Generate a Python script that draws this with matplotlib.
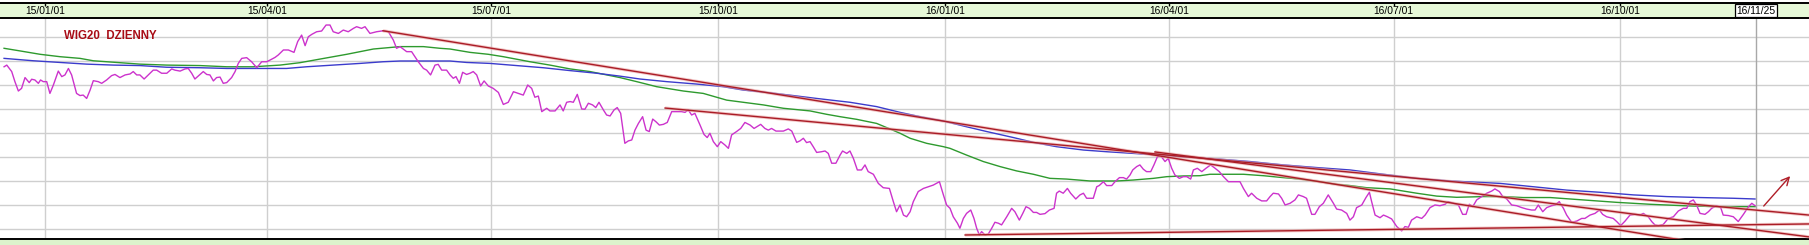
import numpy as np
import pandas as pd
import matplotlib
matplotlib.use('Agg')
import matplotlib.pyplot as plt

plt.rcParams['font.family'] = ['Liberation Sans', 'DejaVu Sans']

# x values are calendar days counted from 2015-01-01
base = pd.Timestamp('2015-01-01')

# WIG20 daily close (4 pieces, left to right)
price_day_a = [-16.6, -15.5, -13.5, -12.2, -10.8, -9.5, -8.1, -6.4, -5.4, -4.1,
               -2.7, -1.8, -0.7, 0.7, 2.0, 3.4, 5.4, 6.8, 8.1, 9.5,
               10.8, 12.8, 14.2, 15.5, 16.9, 18.3, 19.6, 21.6, 23.0, 25.0,
               27.0, 28.4, 30.4, 32.5, 34.5, 35.8, 37.2, 38.5, 40.2, 41.9,
               43.9, 45.3, 47.3, 49.4, 51.4, 52.7, 54.8, 56.8, 58.1, 59.5,
               60.8, 62.9, 64.2, 65.6, 66.9, 68.3, 69.6, 71.0, 72.3, 73.7,
               75.7, 77.1, 78.4, 79.8, 81.8, 83.8, 85.9, 87.9, 89.9, 91.3,
               93.3, 94.6, 96.7, 98.7, 101.0, 102.5, 104.1, 105.5, 106.8, 108.2,
               110.2, 112.2, 114.0, 115.6, 116.9, 119.0, 121.0, 123.0, 125.1, 126.4,
               128.4, 129.8, 131.8, 134.5, 137.2, 139.3, 141.3, 142.6, 144.0, 145.3,
               146.7, 148.7, 151.4, 153.5, 154.8, 156.4, 158.2, 159.5, 160.9, 162.9]
price_val_a = [2374, 2381, 2354, 2312, 2273, 2284, 2329, 2308, 2322, 2319,
               2305, 2319, 2312, 2312, 2263, 2298, 2356, 2333, 2340, 2367,
               2340, 2263, 2254, 2256, 2242, 2277, 2316, 2312, 2305, 2319,
               2337, 2342, 2329, 2340, 2344, 2354, 2340, 2340, 2323, 2340,
               2360, 2360, 2347, 2347, 2365, 2360, 2356, 2365, 2367, 2347,
               2323, 2342, 2354, 2342, 2340, 2315, 2329, 2331, 2305, 2308,
               2329, 2354, 2388, 2409, 2412, 2395, 2370, 2395, 2395, 2402,
               2413, 2423, 2444, 2444, 2434, 2479, 2506, 2462, 2499, 2509,
               2520, 2523, 2548, 2548, 2520, 2513, 2527, 2520, 2534, 2541,
               2534, 2541, 2513, 2520, 2524, 2520, 2485, 2451, 2458, 2448,
               2437, 2437, 2395, 2367, 2360, 2340, 2381, 2384, 2360, 2360]

price_day_b = [164.3, 165.6, 166.7, 168.1, 169.4, 171.0, 172.4, 173.7, 175.1, 176.7,
               178.1, 179.8, 181.8, 183.9, 185.9, 187.9, 190.0, 192.0, 194.0, 195.8,
               197.4, 198.7, 200.1, 201.5, 203.5, 204.8, 206.9, 208.9, 210.2, 211.6,
               213.0, 214.3, 215.9, 217.7, 219.0, 220.4, 222.1, 223.4, 224.7, 226.5,
               227.8, 229.2, 230.8, 232.1, 233.5, 235.2, 236.6, 238.0, 239.3, 240.7,
               242.4, 243.8, 245.1, 246.5, 247.8, 249.2, 250.8, 252.4, 254.2, 256.2,
               258.2, 259.6, 260.9, 262.3, 263.6, 265.7, 267.3, 268.6, 269.7, 271.1,
               272.7, 274.1, 275.8, 277.2, 278.5, 280.5, 282.2, 283.9, 286.0, 287.6,
               288.7, 290.3, 292.0, 293.4, 294.7, 296.5, 299.5, 301.5, 302.9, 304.9,
               306.2, 307.6, 308.9, 310.3, 311.6, 313.0, 315.0, 316.4, 317.7, 319.1,
               320.8, 322.5, 323.5, 325.2, 326.5, 327.9, 329.5, 331.2, 332.6, 333.9,
               336.0, 338.0, 340.0, 342.5, 344.1, 345.4]
price_val_b = [2340, 2326, 2333, 2305, 2351, 2342, 2347, 2354, 2340, 2294,
               2315, 2294, 2284, 2267, 2217, 2226, 2270, 2263, 2256, 2298,
               2284, 2247, 2252, 2187, 2201, 2190, 2190, 2215, 2190, 2226,
               2229, 2226, 2259, 2198, 2197, 2222, 2215, 2204, 2226, 2194,
               2173, 2169, 2194, 2204, 2180, 2055, 2065, 2069, 2110, 2138,
               2166, 2110, 2104, 2156, 2145, 2131, 2134, 2142, 2187, 2187,
               2187, 2184, 2194, 2173, 2180, 2131, 2092, 2079, 2097, 2062,
               2041, 2062, 2048, 2034, 2090, 2104, 2117, 2142, 2131, 2117,
               2124, 2134, 2117, 2110, 2117, 2106, 2106, 2115, 2106, 2059,
               2065, 2076, 2058, 2062, 2041, 2017, 2020, 2023, 2013, 1972,
               1972, 2006, 2023, 2013, 2023, 1992, 1944, 1944, 1965, 1937,
               1926, 1888, 1870, 1867, 1812, 1770]

price_day_c = [346.8, 348.2, 349.5, 350.9, 352.2, 354.2, 356.3, 358.3, 360.3, 362.8,
               364.4, 365.7, 367.1, 368.4, 370.1, 371.1, 372.5, 373.8, 375.5, 376.8,
               377.9, 379.0, 379.9, 381.3, 382.6, 384.0, 385.3, 386.7, 388.0, 390.1,
               392.1, 393.4, 395.2, 396.6, 397.9, 399.3, 400.9, 402.2, 403.6, 405.6,
               407.4, 409.3, 410.3, 411.4, 413.0, 414.7, 416.0, 418.1, 419.8, 421.2,
               422.5, 425.2, 426.6, 427.6, 429.3, 430.6, 432.7, 434.0, 435.8, 437.4,
               438.7, 440.1, 441.2, 442.8, 444.1, 445.5, 446.8, 448.5, 449.8, 451.2,
               452.5, 454.3, 455.6, 457.0, 458.3, 460.1, 461.7, 463.1, 464.7, 465.8,
               467.4, 469.2, 470.9, 472.8, 474.6, 476.3, 478.0, 480.0, 482.0, 484.7,
               486.1, 488.1, 489.4, 491.5, 493.5, 495.5, 496.9, 498.2, 500.3, 501.6,
               503.0, 505.0, 507.0, 508.4, 510.4, 511.7, 513.8, 515.1, 516.9, 518.5,
               520.5, 522.6, 523.9, 525.9, 528.0]
price_val_c = [1798, 1756, 1749, 1770, 1812, 1854, 1867, 1874, 1881, 1895,
               1840, 1798, 1784, 1749, 1722, 1701, 1742, 1763, 1777, 1742,
               1701, 1673, 1687, 1673, 1677, 1701, 1726, 1722, 1715, 1749,
               1784, 1770, 1735, 1763, 1791, 1784, 1767, 1767, 1759, 1762,
               1777, 1784, 1847, 1856, 1847, 1867, 1847, 1823, 1840, 1847,
               1826, 1826, 1874, 1879, 1895, 1879, 1879, 1895, 1912, 1912,
               1906, 1923, 1944, 1958, 1965, 1947, 1937, 1937, 1965, 1999,
               2004, 1979, 1992, 1951, 1923, 1909, 1916, 1916, 1906, 1944,
               1951, 1937, 1951, 1965, 1951, 1937, 1916, 1895, 1895, 1895,
               1867, 1833, 1847, 1826, 1815, 1815, 1833, 1847, 1844, 1826,
               1798, 1805, 1819, 1840, 1833, 1826, 1759, 1759, 1791, 1805,
               1840, 1805, 1781, 1777, 1763]

price_day_d = [529.3, 530.7, 532.0, 534.1, 535.8, 537.2, 538.1, 539.5, 541.5, 542.9,
               544.5, 546.2, 548.3, 550.3, 551.6, 553.0, 554.3, 556.4, 558.4, 559.8,
               561.8, 563.8, 565.8, 567.9, 569.2, 571.2, 573.3, 575.0, 576.4, 577.7,
               579.1, 580.7, 582.7, 584.8, 586.8, 588.1, 589.9, 591.3, 592.9, 594.9,
               596.9, 599.0, 601.0, 603.0, 604.4, 605.7, 607.5, 609.1, 611.1, 612.5,
               614.2, 615.9, 617.2, 619.2, 621.3, 623.3, 624.6, 626.7, 628.7, 630.5,
               631.8, 633.4, 636.1, 637.5, 639.1, 640.9, 642.9, 644.9, 647.0, 648.3,
               650.3, 651.7, 653.0, 654.4, 656.4, 658.4, 660.5, 662.5, 664.5, 665.9,
               667.2, 668.6, 669.9, 671.3, 673.3, 674.7, 676.0, 678.0, 679.7, 680.7,
               682.8, 684.8, 686.8, 688.9, 690.9, 692.3, 693.6]
price_val_d = [1735, 1749, 1787, 1798, 1829, 1851, 1812, 1756, 1745, 1756,
               1749, 1740, 1708, 1690, 1708, 1705, 1735, 1749, 1742, 1756,
               1787, 1798, 1795, 1801, 1812, 1805, 1798, 1759, 1759, 1801,
               1791, 1819, 1833, 1847, 1856, 1865, 1854, 1833, 1823, 1798,
               1795, 1787, 1781, 1777, 1777, 1798, 1770, 1787, 1795, 1798,
               1812, 1784, 1756, 1726, 1731, 1742, 1742, 1756, 1763, 1777,
               1759, 1749, 1742, 1729, 1712, 1731, 1756, 1759, 1756, 1763,
               1749, 1729, 1715, 1712, 1717, 1742, 1749, 1773, 1784, 1784,
               1812, 1819, 1798, 1763, 1759, 1770, 1784, 1795, 1787, 1756,
               1754, 1749, 1729, 1759, 1790, 1805, 1795]

# moving averages
green_day = [-16.6, -10.1, -2.0, 6.1, 14.2, 19.6, 30.4, 38.5, 49.4, 62.9,
             73.7, 84.5, 95.3, 103.4, 111.5, 122.4, 133.2, 144.0, 153.5, 160.2,
             164.3, 172.4, 179.8, 185.9, 196.7, 204.8, 213.0, 221.1, 233.2, 240.0,
             248.1, 258.9, 267.0, 276.5, 283.2, 291.4, 299.5, 310.3, 317.0, 322.5,
             329.2, 337.3, 342.7, 346.8, 350.9, 357.6, 364.4, 367.1, 373.8, 380.6,
             387.4, 394.1, 400.9, 407.6, 414.4, 423.9, 434.7, 441.4, 449.6, 455.0,
             461.7, 468.5, 472.5, 478.0, 486.1, 494.2, 502.3, 509.0, 517.2, 523.9,
             529.3, 536.1, 545.6, 556.4, 564.5, 572.6, 583.4, 591.5, 599.6, 610.5,
             624.0, 637.5, 651.0, 664.5, 678.0, 693.6]
green_val = [2451, 2440, 2426, 2416, 2409, 2399, 2391, 2385, 2381, 2379,
             2374, 2374, 2381, 2391, 2406, 2426, 2448, 2458, 2458, 2451,
             2448, 2434, 2426, 2416, 2395, 2381, 2365, 2354, 2329, 2312,
             2291, 2273, 2263, 2235, 2226, 2215, 2201, 2190, 2176, 2166,
             2155, 2138, 2115, 2097, 2076, 2055, 2041, 2034, 2006, 1979,
             1958, 1940, 1926, 1909, 1906, 1898, 1898, 1902, 1909, 1916,
             1919, 1920, 1926, 1926, 1926, 1920, 1912, 1906, 1895, 1884,
             1879, 1870, 1865, 1847, 1835, 1830, 1833, 1833, 1829, 1829,
             1819, 1809, 1801, 1795, 1791, 1791]

blue_day = [-16.6, -4.7, 6.1, 16.9, 27.7, 38.5, 49.4, 62.9, 73.7, 84.5,
            98.0, 106.1, 116.9, 127.8, 137.2, 144.0, 164.3, 171.0, 180.5, 191.3,
            202.1, 213.0, 223.8, 233.2, 241.3, 252.2, 264.3, 275.1, 283.2, 292.7,
            303.5, 313.0, 326.5, 337.3, 346.8, 354.9, 364.4, 373.8, 382.0, 392.8,
            400.9, 410.3, 421.2, 430.6, 441.4, 452.3, 461.7, 475.2, 488.8, 502.3,
            515.8, 529.3, 542.9, 556.4, 569.9, 590.2, 603.7, 617.2, 630.7, 644.3,
            657.8, 671.3, 684.8, 693.6]
blue_val = [2409, 2399, 2392, 2385, 2381, 2379, 2372, 2370, 2367, 2367,
            2367, 2374, 2381, 2388, 2395, 2398, 2398, 2392, 2388, 2379,
            2370, 2358, 2347, 2335, 2323, 2312, 2302, 2291, 2277, 2267,
            2254, 2242, 2226, 2208, 2184, 2166, 2148, 2124, 2104, 2079,
            2059, 2041, 2027, 2020, 2013, 2006, 1999, 1990, 1979, 1965,
            1954, 1944, 1926, 1909, 1898, 1888, 1874, 1860, 1851, 1840,
            1833, 1829, 1826, 1823]

# trend lines: start day, start value, end day, end value
trend_lines = [(137.1, 2524, 679.4, 1626),
               (251.5, 2202, 715.5, 1756),
               (450.2, 2019, 715.5, 1665),
               (373.2, 1673, 715.5, 1719)]
arrow_tail = (696.4, 1785)
arrow_head = (708.6, 1927)

tick_dates = pd.to_datetime(['2015-01-01', '2015-04-01', '2015-07-01', '2015-10-01',
                             '2016-01-01', '2016-04-01', '2016-07-01', '2016-10-01',
                             '2016-11-25'])
tick_labels = ['15/01/01', '15/04/01', '15/07/01', '15/10/01',
               '16/01/01', '16/04/01', '16/07/01', '16/10/01', '16/11/25']
grid_levels = list(range(1700, 2600, 100))


def to_date(days):
    return base + pd.to_timedelta(np.asarray(days, dtype=float), unit='D')


def one_date(day):
    return base + pd.Timedelta(days=day)


price_day = np.concatenate([price_day_a, price_day_b, price_day_c, price_day_d])
price_val = np.concatenate([price_val_a, price_val_b, price_val_c, price_val_d])

x_left, x_right = one_date(-18.25), one_date(715.5)

W, H = 1809, 245
fig = plt.figure(figsize=(W / 100, H / 100), dpi=100)
fig.patch.set_facecolor('white')

# main chart
ax = fig.add_axes([0, 5.7 / H, 1, 221 / H])
ax.set_xlim(x_left, x_right)
ax.set_ylim(1655, 2576)
ax.set_xticks([])
ax.set_yticks([])
for s in ['top', 'left', 'right']:
    ax.spines[s].set_visible(False)
ax.spines['bottom'].set_color('black')
ax.spines['bottom'].set_linewidth(1.4)

for lv in grid_levels:
    ax.axhline(lv, color='#cfcfcf', lw=1.0, zorder=0)
for d in tick_dates[:-1]:
    ax.axvline(d, color='#cfcfcf', lw=1.0, zorder=0)
ax.axvline(tick_dates[-1], color='#a8a8a8', lw=1.0, zorder=0)

ax.plot(to_date(green_day), green_val, color='#2e9a2e', lw=1.0, zorder=2)
ax.plot(to_date(blue_day), blue_val, color='#3b3bcc', lw=1.0, zorder=2)
ax.plot(to_date(price_day), price_val, color='#cc33cc', lw=1.0, zorder=3)

for d0, v0, d1, v1 in trend_lines:
    xs = [one_date(d0), one_date(d1)]
    ax.plot(xs, [v0, v1], color='#eaa2a2', lw=2.3, alpha=0.6, zorder=4,
            solid_capstyle='butt')
    ax.plot(xs, [v0, v1], color='#aa1c26', lw=1.0, zorder=5)

ax.annotate('', xy=(one_date(arrow_head[0]), arrow_head[1]),
            xytext=(one_date(arrow_tail[0]), arrow_tail[1]),
            arrowprops=dict(arrowstyle='->', color='#b01e28', lw=1.0,
                            mutation_scale=14), zorder=6)

ax.text(64 / W, 0.918, 'WIG20  DZIENNY', transform=ax.transAxes,
        ha='left', va='center', fontsize=8.3, fontweight='bold',
        color='#a80c16', zorder=6)

# date header band
hax = fig.add_axes([0, (H - 18.3) / H, 1, 15.6 / H])
hax.set_facecolor('#e6f8d8')
hax.set_xlim(x_left, x_right)
hax.set_ylim(0, 1)
hax.set_yticks([])
hax.set_xticks(tick_dates)
hax.tick_params(axis='x', top=True, bottom=False, labelbottom=False,
                direction='in', length=2.5, width=1, color='black')
for s in ['left', 'right']:
    hax.spines[s].set_visible(False)
for s in ['top', 'bottom']:
    hax.spines[s].set_color('black')
    hax.spines[s].set_linewidth(1.4)
for d, lab in zip(tick_dates, tick_labels):
    if lab == tick_labels[-1]:
        hax.text(d, 0.48, lab, ha='center', va='center', fontsize=7.4,
                 bbox=dict(boxstyle='square,pad=0.15', fc='white', ec='black', lw=0.9))
    else:
        hax.text(d, 0.48, lab, ha='center', va='center', fontsize=7.4)

# bottom band
bax = fig.add_axes([0, 0, 1, 5.0 / H])
bax.set_facecolor('#dcf3cc')
bax.set_xticks([])
bax.set_yticks([])
for s in bax.spines.values():
    s.set_visible(False)

fig.savefig('out.png', dpi=100)
